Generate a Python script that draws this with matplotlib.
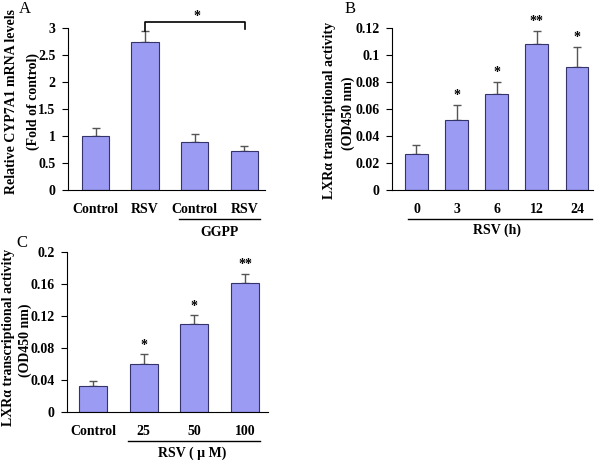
import matplotlib
matplotlib.use("Agg")
from matplotlib import pyplot as plt

plt.rcParams['font.family'] = ['Liberation Serif', 'DejaVu Serif']
plt.rcParams['font.weight'] = 'bold'

# panel A: CYP7A1 mRNA
a_labels = ["Control", "RSV", "Control", "RSV"]
a_vals = [1.0, 2.75, 0.88, 0.73]
a_err = [0.15, 0.20, 0.15, 0.09]

# panel B: LXRa activity vs time
b_labels = ["0", "3", "6", "12", "24"]
b_vals = [0.027, 0.052, 0.071, 0.108, 0.091]
b_err = [0.006, 0.011, 0.009, 0.010, 0.015]
b_stars = ["", "*", "*", "**", "*"]

# panel C: LXRa activity vs dose
c_labels = ["Control", "25", "50", "100"]
c_vals = [0.032, 0.060, 0.110, 0.161]
c_err = [0.007, 0.012, 0.011, 0.012]
c_stars = ["", "*", "*", "**"]

bar_col = "#9b9bf4"
edge_col = "#34346a"
W, H = 600, 465

fig = plt.figure(figsize=(6, 4.65), dpi=100)


def px_axes(left, top, right, bottom):
    return fig.add_axes([left / W, 1 - bottom / H, (right - left) / W, (bottom - top) / H])


def bars(ax, labels, vals, err, width, xlim, ylim, yticks):
    x = list(range(len(vals)))
    ax.bar(x, vals, width, color=bar_col, edgecolor=edge_col, linewidth=0.8, zorder=2)
    ax.errorbar(x, vals, yerr=[[0] * len(vals), err], fmt="none", ecolor="#555555",
                elinewidth=1, capsize=3, capthick=1, zorder=1)
    ax.set_xlim(xlim)
    ax.set_ylim(ylim)
    ax.set_yticks(yticks)
    ax.set_yticklabels(["%g" % v for v in yticks])
    ax.set_xticks(x)
    ax.set_xticklabels(labels)
    for s in ["top", "right"]:
        ax.spines[s].set_visible(False)
    ax.spines["left"].set_linewidth(0.8)
    ax.spines["bottom"].set_linewidth(0.8)
    ax.tick_params(axis="x", length=0, pad=9, labelsize=10)
    ax.tick_params(axis="y", length=4, width=0.8, pad=5, labelsize=10)
    for t in ax.get_xticklabels() + ax.get_yticklabels():
        t.set_fontweight("bold")


def under_line(ax, x0, x1, y):
    tr = ax.get_xaxis_transform()
    ax.plot([x0, x1], [y, y], color="black", lw=1, transform=tr, clip_on=False)


# A
axA = px_axes(68, 28, 265, 190)
bars(axA, a_labels, a_vals, a_err, 0.55, (-0.556, 3.42), (0, 3),
     [0, 0.5, 1, 1.5, 2, 2.5, 3])
top_rsv = a_vals[1] + a_err[1]
axA.plot([1, 1, 3.02, 3.02], [top_rsv, 3.11, 3.11, 2.98], color="black", lw=1.2, clip_on=False)
axA.text(2.05, 3.22, "*", ha="center", va="center", fontsize=10)
under_line(axA, 1.69, 3.31, -0.179)
axA.text(2.5, -0.26, "GGPP", ha="center", va="center", fontsize=10,
         transform=axA.get_xaxis_transform())

# B
axB = px_axes(392, 28, 593, 190)
bars(axB, b_labels, b_vals, b_err, 0.57, (-0.61, 4.40), (0, 0.12),
     [0, 0.02, 0.04, 0.06, 0.08, 0.1, 0.12])
for i, s in enumerate(b_stars):
    if s:
        axB.text(i, b_vals[i] + b_err[i] + 0.002, s, ha="center", va="bottom", fontsize=10)
under_line(axB, -0.21, 4.38, -0.179)
axB.text(2, -0.247, "RSV (h)", ha="center", va="center", fontsize=10,
         transform=axB.get_xaxis_transform())

# C
axC = px_axes(67, 252, 268, 412)
bars(axC, c_labels, c_vals, c_err, 0.55, (-0.51, 3.45), (0, 0.2),
     [0, 0.04, 0.08, 0.12, 0.16, 0.2])
for i, s in enumerate(c_stars):
    if s:
        axC.text(i, c_vals[i] + c_err[i] + 0.003, s, ha="center", va="bottom", fontsize=10)
under_line(axC, 0.69, 3.29, -0.181)
axC.text(1.95, -0.256, "RSV ( \u00b5 M)", ha="center", va="center", fontsize=10,
         transform=axC.get_xaxis_transform())


# y labels and panel letters
def ylab(x, y, s):
    fig.text(x / W, 1 - y / H, s, rotation=90, ha="center", va="center", fontsize=10)


ylab(12, 102, "Relative CYP7A1 mRNA levels")
ylab(33, 102, "(Fold of control)")
ylab(329, 110, "LXR\u03b1 transcriptional activity")
ylab(348, 113, "(OD450 nm)")
ylab(9, 337, "LXR\u03b1 transcriptional activity")
ylab(25, 340, "(OD450 nm)")

for x, y, s in [(25, 9, "A"), (350, 9, "B"), (22, 243, "C")]:
    fig.text(x / W, 1 - y / H, s, ha="center", va="center", fontsize=12, fontweight="normal")

fig.savefig("out.png", dpi=100)
